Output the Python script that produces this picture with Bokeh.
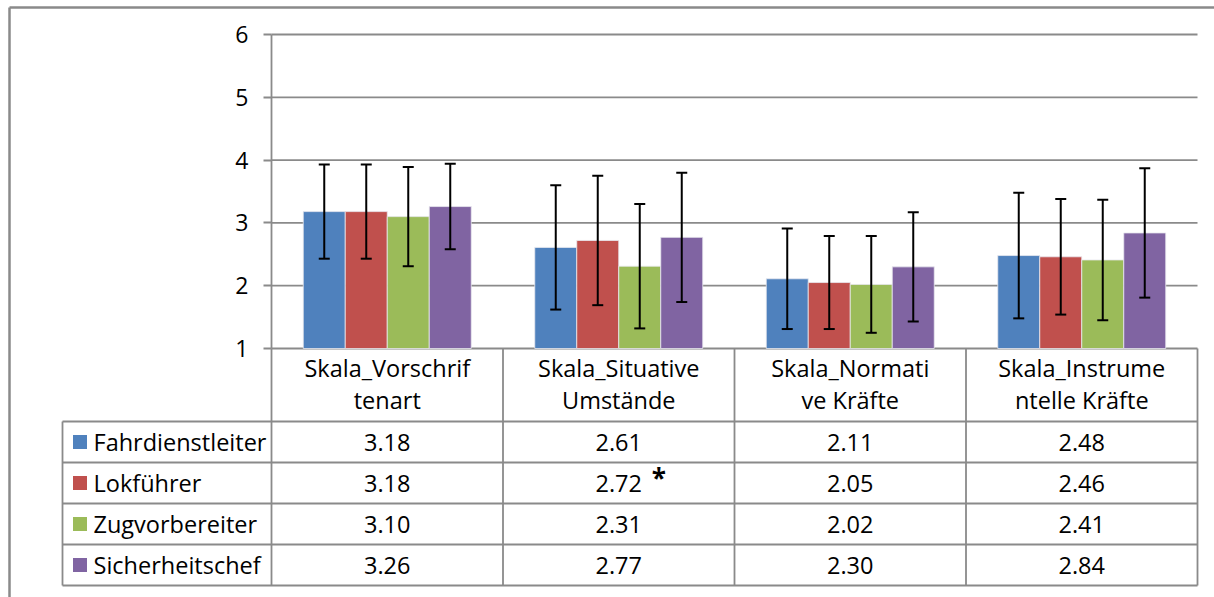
from bokeh.plotting import figure
from bokeh.models import Range1d, LinearAxis, FixedTicker, ColumnDataSource, Whisker, TeeHead
from bokeh.transform import dodge
from bokeh.core.properties import value
from bokeh.embed import file_html
from bokeh.resources import INLINE

# ---------------- data ----------------
categories = ["Skala_Vorschriftenart", "Skala_Situative Umstände",
              "Skala_Normative Kräfte", "Skala_Instrumentelle Kräfte"]
header_line1 = ["Skala_Vorschrif", "Skala_Situative", "Skala_Normati", "Skala_Instrume"]
header_line2 = ["tenart", "Umstände", "ve Kräfte", "ntelle Kräfte"]
series = ["Fahrdienstleiter", "Lokführer", "Zugvorbereiter", "Sicherheitschef"]
fahrdienstleiter = [3.18, 2.61, 2.11, 2.48]
lokfuehrer = [3.18, 2.72, 2.05, 2.46]
zugvorbereiter = [3.10, 2.31, 2.02, 2.41]
sicherheitschef = [3.26, 2.77, 2.30, 2.84]
sd_fahrdienstleiter = [0.75, 0.99, 0.80, 1.00]
sd_lokfuehrer = [0.75, 1.03, 0.74, 0.92]
sd_zugvorbereiter = [0.79, 0.99, 0.77, 0.96]
sd_sicherheitschef = [0.68, 1.03, 0.87, 1.03]
labels_fahrdienstleiter = ["3.18", "2.61", "2.11", "2.48"]
labels_lokfuehrer = ["3.18", "2.72", "2.05", "2.46"]
labels_zugvorbereiter = ["3.10", "2.31", "2.02", "2.41"]
labels_sicherheitschef = ["3.26", "2.77", "2.30", "2.84"]
y_ticks = [1, 2, 3, 4, 5, 6]
marked = ("Lokführer", 1)   # significance asterisk position (series, category)

colors = ["#4F81BD", "#C0504D", "#9BBB59", "#8064A2"]
means = [fahrdienstleiter, lokfuehrer, zugvorbereiter, sicherheitschef]
sds = [sd_fahrdienstleiter, sd_lokfuehrer, sd_zugvorbereiter, sd_sicherheitschef]
cell_labels = [labels_fahrdienstleiter, labels_lokfuehrer, labels_zugvorbereiter, labels_sicherheitschef]

# ---------------- layout (pixels) ----------------
W, H = 1214, 597
PXX = 231.5          # pixels per category
PXY = 62.8           # pixels per y unit
X0_PX = 271          # canvas x of category boundary 0
Y1_PX = 348          # canvas y of value 1
FONT = "Open Sans"
FS = "23.5px"
GRID = "#8a8a8a"

x_start = -X0_PX / PXX
x_end = (W - X0_PX) / PXX
y_end = 1 + Y1_PX / PXY
y_start = 1 - (H - Y1_PX) / PXY

p = figure(width=W, height=H, output_backend="svg", toolbar_location=None,
           x_range=Range1d(x_start, x_end), y_range=Range1d(y_start, y_end),
           x_axis_type=None, y_axis_type=None, min_border=0,
           min_border_left=0, min_border_right=0, min_border_top=0, min_border_bottom=0)
p.outline_line_color = None
p.grid.visible = False
p.background_fill_color = "white"
p.border_fill_color = "white"

n = len(categories)
cat_x = [i + 0.5 for i in range(n)]
bar_w = 42 / PXX

# gridlines (from 0 to n)
p.segment(x0=[0] * len(y_ticks), x1=[n] * len(y_ticks), y0=y_ticks, y1=y_ticks,
          line_color=GRID, line_width=1.8)

# y axis at x = 0
yaxis = LinearAxis(fixed_location=0, ticker=FixedTicker(ticks=y_ticks), bounds=(1, 6))
yaxis.axis_line_color = GRID
yaxis.axis_line_width = 1.8
yaxis.major_tick_line_color = GRID
yaxis.major_tick_line_width = 1.8
yaxis.major_tick_out = 8
yaxis.major_tick_in = 0
yaxis.minor_tick_line_color = None
yaxis.major_label_standoff = 15
yaxis.major_label_text_font = FONT
yaxis.major_label_text_font_size = "23px"
yaxis.major_label_text_color = "black"
p.add_layout(yaxis, "left")

# bars + error bars
for k, name in enumerate(series):
    off = (k - 1.5) * bar_w
    src = ColumnDataSource(dict(
        x=cat_x, top=means[k],
        upper=[m + s for m, s in zip(means[k], sds[k])],
        lower=[m - s for m, s in zip(means[k], sds[k])]))
    p.vbar(x=dodge("x", off), top="top", bottom=1, width=bar_w, source=src,
           fill_color=colors[k], line_color="#eaeaf0", line_width=0.8)
    wh = Whisker(base=dodge("x", off), upper="upper", lower="lower", source=src,
                 line_color="black", line_width=2, level="overlay",
                 upper_head=TeeHead(size=11, line_width=2, line_color="black"),
                 lower_head=TeeHead(size=11, line_width=2, line_color="black"))
    p.add_layout(wh)

# ---------------- data table ----------------
header_h = 73 / PXY
row_h = 41 / PXY
legend_left = -(271 - 62) / PXX
hb = 1 - header_h
row_bottoms = [hb - (r + 1) * row_h for r in range(len(series))]
t_bottom = row_bottoms[-1]

# horizontal lines
hy = [hb] + row_bottoms
p.segment(x0=[legend_left] * len(hy), x1=[n] * len(hy), y0=hy, y1=hy,
          line_color=GRID, line_width=1.8)
# vertical lines of category columns
vx = list(range(n + 1))
p.segment(x0=vx, x1=vx, y0=[1] * len(vx), y1=[t_bottom] * len(vx),
          line_color=GRID, line_width=1.8)
# legend column left border
p.segment(x0=[legend_left], x1=[legend_left], y0=[hb], y1=[t_bottom],
          line_color=GRID, line_width=1.8)

# header texts
p.text(x=cat_x, y=[1 - 19 / PXY] * n, text=header_line1, text_align="center",
       text_baseline="middle", text_font=value(FONT), text_font_size=FS, text_color="black")
p.text(x=cat_x, y=[1 - 51 / PXY] * n, text=header_line2, text_align="center",
       text_baseline="middle", text_font=value(FONT), text_font_size=FS, text_color="black")

row_centers = [hb - (r + 0.5) * row_h for r in range(len(series))]
for k, name in enumerate(series):
    p.text(x=cat_x, y=[row_centers[k]] * n, text=cell_labels[k], text_align="center",
           text_baseline="middle", text_font=value(FONT), text_font_size=FS, text_color="black")

# legend keys and names
p.rect(x=[legend_left + 17.5 / PXX] * len(series), y=row_centers, width=14 / PXX,
       height=14 / PXY, fill_color=colors, line_color=None)
p.text(x=[legend_left + 31 / PXX] * len(series), y=row_centers, text=series,
       text_align="left", text_baseline="middle", text_font=value(FONT),
       text_font_size=FS, text_color="black")

# significance asterisk
ks = series.index(marked[0])
p.text(x=[cat_x[marked[1]] + 40 / PXX], y=[row_centers[ks] + 5 / PXY], text=["*"],
       text_align="center", text_baseline="middle", text_font=value(FONT),
       text_font_size="26px", text_font_style="bold", text_color="black")

# outer chart-area border (left and top)
bx = x_start + 9 / PXX
by = y_end - 7 / PXY
p.segment(x0=[bx, bx], x1=[bx, x_end], y0=[y_start, by], y1=[by, by],
          line_color=GRID, line_width=2.5)

open("out.html", "w").write(file_html(p, INLINE))
